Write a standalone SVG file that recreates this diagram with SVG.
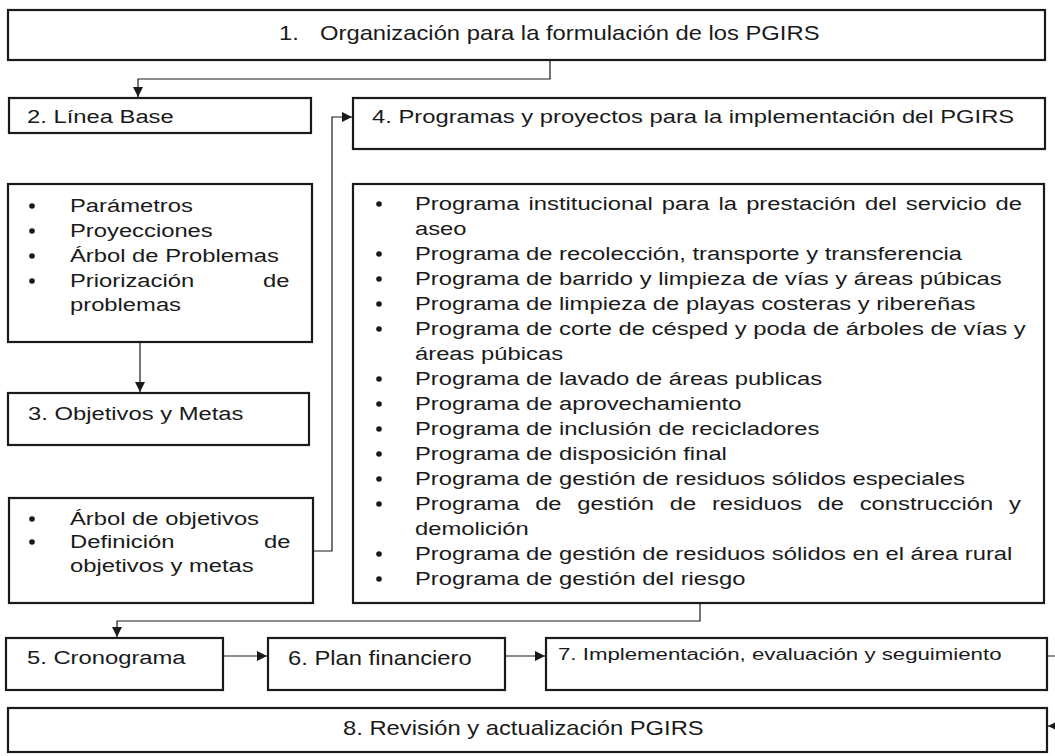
<svg xmlns="http://www.w3.org/2000/svg" width="1055" height="756" viewBox="0 0 1055 756">
<style>
.box{fill:#fff;stroke:#1a1a1a;stroke-width:2.2}
.con{fill:none;stroke:#1a1a1a;stroke-width:1.2}
text{font-family:"Liberation Sans",Arial,sans-serif;font-size:19px;fill:#1a1a1a}
.big{font-size:21px}
.dot{fill:#1a1a1a}
</style>
<defs>
<marker id="ah" markerUnits="userSpaceOnUse" markerWidth="10" markerHeight="10" refX="10" refY="5" orient="auto">
<path d="M0,0 L10,5 L0,10 z" fill="#1a1a1a"/>
</marker>
</defs>
<rect width="1055" height="756" fill="#fff"/>

<g id="connectors">
<path class="con" d="M550,60 V79 H138 V97" marker-end="url(#ah)"/>
<path class="con" d="M140,342 V392" marker-end="url(#ah)"/>
<path class="con" d="M313,551 H332 V117 H352" marker-end="url(#ah)"/>
<path class="con" d="M700,603 V621 H117 V637" marker-end="url(#ah)"/>
<path class="con" d="M223,656 H267" marker-end="url(#ah)"/>
<path class="con" d="M505,656 H545" marker-end="url(#ah)"/>
<path class="con" d="M1047,656 H1062 V726 H1048" marker-end="url(#ah)"/>
</g>

<g id="n1">
<rect class="box" x="8" y="10" width="1037" height="50"/>
<text class="big" transform="matrix(1.133 0 0 1 279 40)">1.</text>
<text class="big" transform="matrix(1.133 0 0 1 320 40)">Organización para la formulación de los PGIRS</text>
</g>

<g id="n2">
<rect class="box" x="9" y="98" width="302" height="35"/>
<text transform="matrix(1.252 0 0 1 27 123)">2. Línea Base</text>
</g>

<g id="n2b">
<rect class="box" x="8" y="184" width="304" height="158"/>
<circle class="dot" cx="32" cy="206" r="2.8"/>
<circle class="dot" cx="32" cy="231" r="2.8"/>
<circle class="dot" cx="32" cy="256" r="2.8"/>
<circle class="dot" cx="32" cy="281" r="2.8"/>
<text transform="matrix(1.252 0 0 1 70 212)">Parámetros</text>
<text transform="matrix(1.252 0 0 1 70 237)">Proyecciones</text>
<text transform="matrix(1.252 0 0 1 70 262)">Árbol de Problemas</text>
<text transform="matrix(1.252 0 0 1 70 287)">Priorización</text>
<text transform="matrix(1.252 0 0 1 263 287)">de</text>
<text transform="matrix(1.252 0 0 1 70 311)">problemas</text>
</g>

<g id="n3">
<rect class="box" x="8" y="393" width="301" height="52"/>
<text transform="matrix(1.252 0 0 1 28 420)">3. Objetivos y Metas</text>
</g>

<g id="n3b">
<rect class="box" x="9" y="498" width="304" height="105"/>
<circle class="dot" cx="32" cy="519" r="2.8"/>
<circle class="dot" cx="32" cy="542" r="2.8"/>
<text transform="matrix(1.252 0 0 1 70 525)">Árbol de objetivos</text>
<text transform="matrix(1.252 0 0 1 70 548)">Definición</text>
<text transform="matrix(1.252 0 0 1 264 548)">de</text>
<text transform="matrix(1.252 0 0 1 70 572)">objetivos y metas</text>
</g>

<g id="n4">
<rect class="box" x="353" y="98" width="692" height="51"/>
<text transform="matrix(1.252 0 0 1 372 123)">4. Programas y proyectos para la implementación del PGIRS</text>
</g>

<g id="n4b">
<rect class="box" x="353" y="184" width="691" height="419"/>
<circle class="dot" cx="379" cy="204" r="2.8"/>
<circle class="dot" cx="379" cy="254" r="2.8"/>
<circle class="dot" cx="379" cy="279" r="2.8"/>
<circle class="dot" cx="379" cy="304" r="2.8"/>
<circle class="dot" cx="379" cy="329" r="2.8"/>
<circle class="dot" cx="379" cy="379" r="2.8"/>
<circle class="dot" cx="379" cy="404" r="2.8"/>
<circle class="dot" cx="379" cy="429" r="2.8"/>
<circle class="dot" cx="379" cy="454" r="2.8"/>
<circle class="dot" cx="379" cy="479" r="2.8"/>
<circle class="dot" cx="379" cy="504" r="2.8"/>
<circle class="dot" cx="379" cy="554" r="2.8"/>
<circle class="dot" cx="379" cy="579" r="2.8"/>
<text transform="matrix(1.252 0 0 1 415 210)" word-spacing="2">Programa institucional para la prestación del servicio de</text>
<text transform="matrix(1.252 0 0 1 415 235)">aseo</text>
<text transform="matrix(1.252 0 0 1 415 260)">Programa de recolección, transporte y transferencia</text>
<text transform="matrix(1.252 0 0 1 415 285)">Programa de barrido y limpieza de vías y áreas púbicas</text>
<text transform="matrix(1.252 0 0 1 415 310)">Programa de limpieza de playas costeras y ribereñas</text>
<text transform="matrix(1.252 0 0 1 415 335)">Programa de corte de césped y poda de árboles de vías y</text>
<text transform="matrix(1.252 0 0 1 415 360)">áreas púbicas</text>
<text transform="matrix(1.252 0 0 1 415 385)">Programa de lavado de áreas publicas</text>
<text transform="matrix(1.252 0 0 1 415 410)">Programa de aprovechamiento</text>
<text transform="matrix(1.252 0 0 1 415 435)">Programa de inclusión de recicladores</text>
<text transform="matrix(1.252 0 0 1 415 460)">Programa de disposición final</text>
<text transform="matrix(1.252 0 0 1 415 485)">Programa de gestión de residuos sólidos especiales</text>
<text transform="matrix(1.252 0 0 1 415 510)" word-spacing="7.3">Programa de gestión de residuos de construcción y</text>
<text transform="matrix(1.252 0 0 1 415 535)">demolición</text>
<text transform="matrix(1.252 0 0 1 415 560)">Programa de gestión de residuos sólidos en el área rural</text>
<text transform="matrix(1.252 0 0 1 415 585)">Programa de gestión del riesgo</text>
</g>

<g id="n5">
<rect class="box" x="6" y="638" width="217" height="52"/>
<text transform="matrix(1.252 0 0 1 27 664)">5. Cronograma</text>
</g>

<g id="n6">
<rect class="box" x="268" y="638" width="237" height="52"/>
<text class="big" transform="matrix(1.133 0 0 1 288 665)">6. Plan financiero</text>
</g>

<g id="n7">
<rect class="box" x="546" y="638" width="501" height="52"/>
<text style="font-size:16px" transform="matrix(1.39 0 0 1 558 660)">7. Implementación, evaluación y seguimiento</text>
</g>

<g id="n8">
<rect class="box" x="8" y="708" width="1039" height="44"/>
<text class="big" transform="matrix(1.133 0 0 1 343 735)">8. Revisión y actualización PGIRS</text>
</g>
</svg>
